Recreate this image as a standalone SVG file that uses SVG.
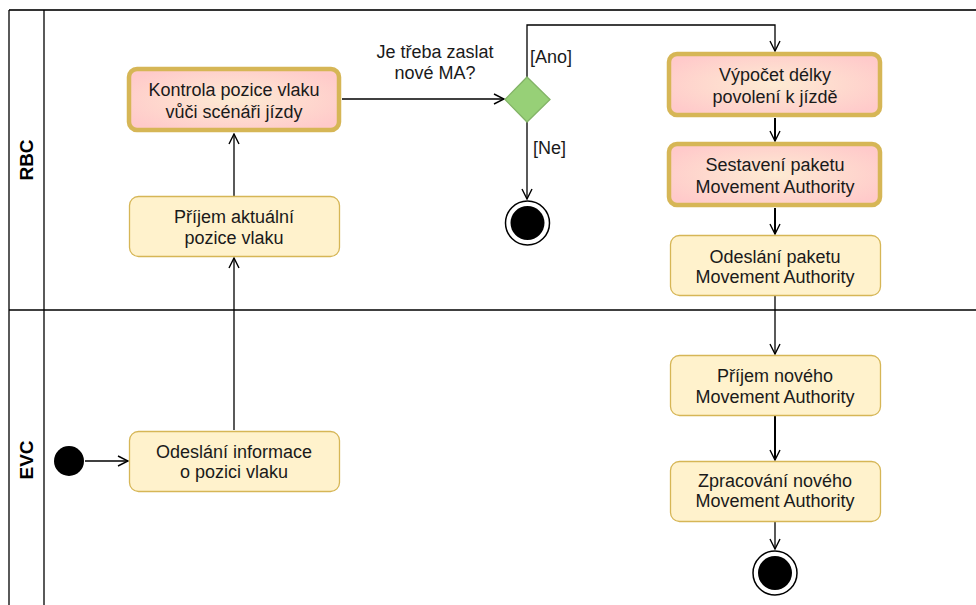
<svg xmlns="http://www.w3.org/2000/svg" width="976" height="605" viewBox="0 0 976 605">
  <defs>
    <radialGradient id="hot" cx="50%" cy="50%" r="60%">
      <stop offset="0%" stop-color="#fdebd3"/>
      <stop offset="100%" stop-color="#ffcaca"/>
    </radialGradient>
    <marker id="open" viewBox="0 0 12 12" refX="11" refY="6" markerWidth="12" markerHeight="12" markerUnits="userSpaceOnUse" orient="auto">
      <path d="M1,1 L11,6 L1,11" fill="none" stroke="#000" stroke-width="1.4"/>
    </marker>
  </defs>
  <style>
    text { font-family: "Liberation Sans", Arial, sans-serif; font-size: 18px; fill: #1a1a1a; }
    .lbl { text-anchor: middle; }
    .lane { font-weight: bold; font-size: 19px; fill: #000; }
    .act { fill: #fff2cc; stroke: #d6b656; stroke-width: 1.3; }
    .hot { fill: url(#hot); stroke: #d6b656; stroke-width: 4.5; }
    .edge { fill: none; stroke: #000; stroke-width: 1.3; marker-end: url(#open); }
    .thick { stroke-width: 2; }
    .frame { fill: none; stroke: #000; stroke-width: 1.3; }
  </style>
  <rect width="976" height="605" fill="#fff"/>

  <!-- swimlane frame -->
  <g id="lanes">
    <line x1="9" y1="10" x2="976" y2="10" stroke="#333" stroke-width="2"/>
    <line class="frame" x1="9" y1="10" x2="9" y2="605"/>
    <line class="frame" x1="44" y1="10" x2="44" y2="605"/>
    <line class="frame" x1="9" y1="310" x2="976" y2="310"/>
    <text class="lane lbl" transform="translate(33,160) rotate(-90)">RBC</text>
    <text class="lane lbl" transform="translate(33,460) rotate(-90)">EVC</text>
  </g>

  <!-- connectors -->
  <g id="edges">
    <line class="edge" x1="85" y1="461" x2="128" y2="461"/>
    <line class="edge" x1="234" y1="430" x2="234" y2="258"/>
    <line class="edge" x1="234" y1="196" x2="234" y2="134"/>
    <line class="edge" x1="342" y1="99" x2="504" y2="99"/>
    <polyline class="edge" points="527,77 527,25 775,25 775,51"/>
    <line class="edge" x1="527" y1="122" x2="527" y2="199"/>
    <line class="edge thick" x1="775" y1="118" x2="775" y2="141"/>
    <line class="edge thick" x1="775" y1="208" x2="775" y2="234"/>
    <line class="edge" x1="775" y1="296" x2="775" y2="354"/>
    <line class="edge thick" x1="775" y1="416" x2="775" y2="460"/>
    <line class="edge" x1="775" y1="521" x2="775" y2="549"/>
    <text x="435" y="58" class="lbl">Je třeba zaslat</text>
    <text x="435" y="79" class="lbl">nové MA?</text>
    <text x="530" y="63">[Ano]</text>
    <text x="533" y="154">[Ne]</text>
  </g>

  <!-- RBC lane -->
  <g id="kontrola">
    <rect class="hot" x="129" y="69" width="210" height="61" rx="8"/>
    <text x="234" y="96" class="lbl">Kontrola pozice vlaku</text>
    <text x="234" y="118" class="lbl">vůči scénáři jízdy</text>
  </g>
  <g id="prijem-pozice">
    <rect class="act" x="129.5" y="196.5" width="210" height="60" rx="9"/>
    <text x="234" y="223" class="lbl">Příjem aktuální</text>
    <text x="234" y="244" class="lbl">pozice vlaku</text>
  </g>
  <g id="rozhodnuti">
    <polygon points="527,77 550,99.5 527,122 505,99.5" fill="#97d077" stroke="#82b366" stroke-width="1.3"/>
  </g>
  <g id="konec-rbc">
    <circle cx="527.5" cy="223" r="22" fill="#fff" stroke="#000" stroke-width="1.5"/>
    <circle cx="527.5" cy="223" r="17" fill="#000"/>
  </g>
  <g id="vypocet">
    <rect class="hot" x="669" y="54" width="211" height="61" rx="8"/>
    <text x="775" y="81" class="lbl">Výpočet délky</text>
    <text x="775" y="103" class="lbl">povolení k jízdě</text>
  </g>
  <g id="sestaveni">
    <rect class="hot" x="669" y="144" width="211" height="61" rx="8"/>
    <text x="775" y="171" class="lbl">Sestavení paketu</text>
    <text x="775" y="193" class="lbl">Movement Authority</text>
  </g>
  <g id="odeslani-paketu">
    <rect class="act" x="670.5" y="235.5" width="210" height="60" rx="9"/>
    <text x="775" y="263" class="lbl">Odeslání paketu</text>
    <text x="775" y="283" class="lbl">Movement Authority</text>
  </g>

  <!-- EVC lane -->
  <g id="start">
    <circle cx="69" cy="461" r="15" fill="#000"/>
  </g>
  <g id="odeslani-info">
    <rect class="act" x="129.5" y="431.5" width="210" height="60" rx="9"/>
    <text x="234" y="458" class="lbl">Odeslání informace</text>
    <text x="234" y="478" class="lbl">o pozici vlaku</text>
  </g>
  <g id="prijem-ma">
    <rect class="act" x="670.5" y="355.5" width="210" height="60" rx="9"/>
    <text x="775" y="382" class="lbl">Příjem nového</text>
    <text x="775" y="403" class="lbl">Movement Authority</text>
  </g>
  <g id="zpracovani">
    <rect class="act" x="670.5" y="461.5" width="210" height="60" rx="9"/>
    <text x="775" y="487" class="lbl">Zpracování nového</text>
    <text x="775" y="507" class="lbl">Movement Authority</text>
  </g>
  <g id="konec-evc">
    <circle cx="775" cy="573" r="22" fill="#fff" stroke="#000" stroke-width="1.5"/>
    <circle cx="775" cy="573" r="17" fill="#000"/>
  </g>
</svg>
